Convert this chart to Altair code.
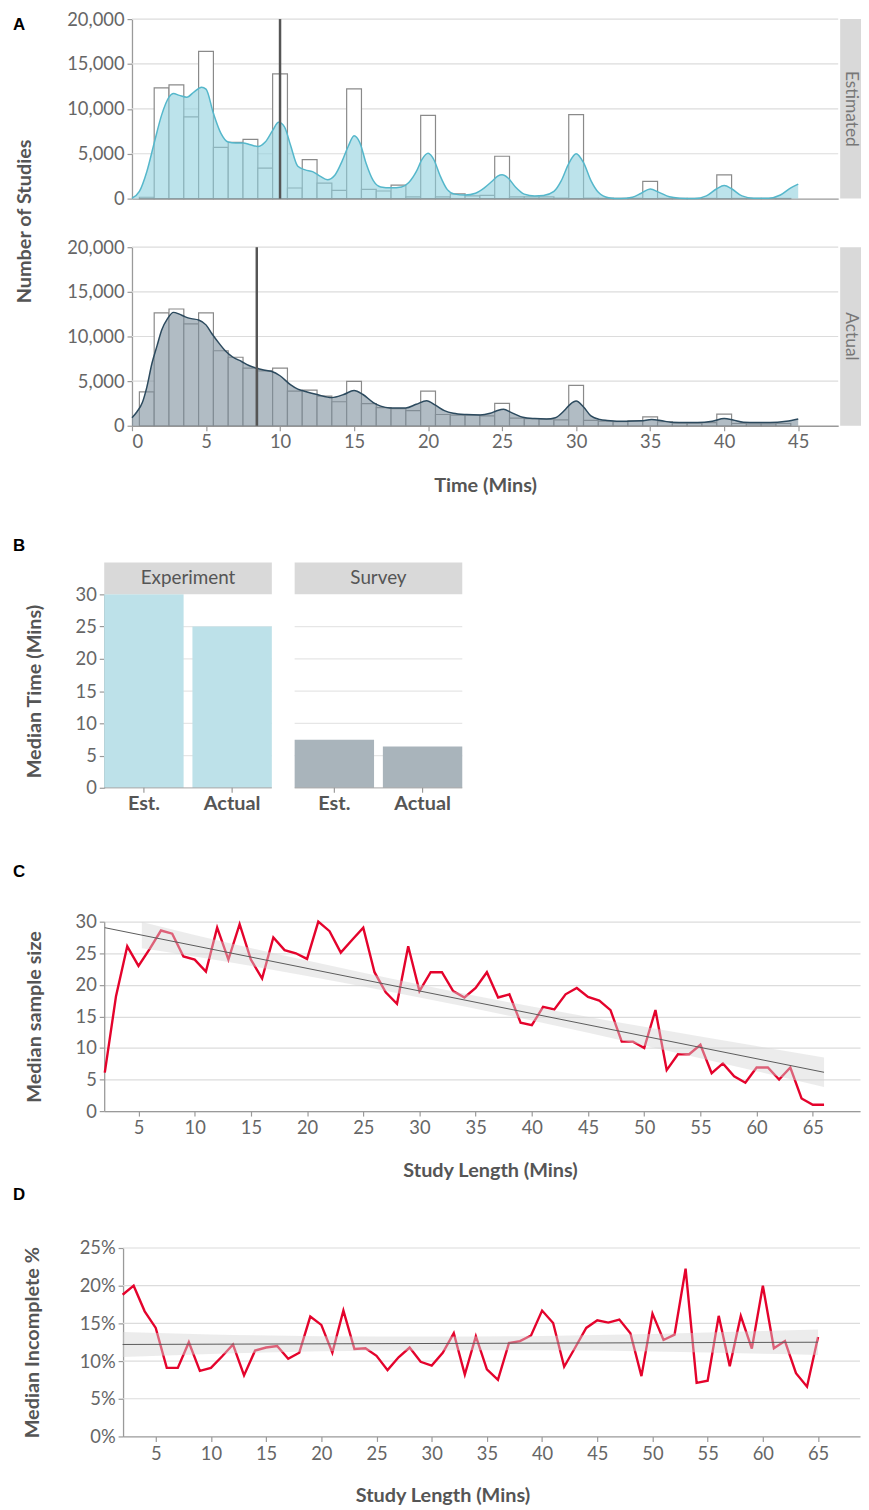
import altair as alt
import pandas as pd

FONT = "Lato"
LETTER_FONT = "Liberation Sans"
TITLE_C = "#555555"
LABEL_C = "#666666"
GRID_C = "#DCDCDC"
AXIS_C = "#9A9A9A"
RED = "#E4032C"

# ---------------- Panel A data ----------------
bin_centers = list(range(1, 45))
estimated_counts = [150, 12340, 12670, 9100, 16400, 5700, 6260, 6600, 3400, 13900,
                    1180, 4350, 1730, 920, 12230, 1030, 850, 1510, 190, 9280,
                    190, 520, 300, 370, 4720, 200, 200, 200, 50, 9360,
                    50, 30, 30, 30, 1910, 20, 20, 20, 20, 2650,
                    20, 20, 20, 20]
actual_counts = [3800, 12640, 13080, 11420, 12640, 8400, 7670, 6450, 6150, 6450,
                 3870, 3980, 3320, 2690, 4970, 2470, 2030, 1920, 1700, 3870,
                 1260, 1200, 1200, 1100, 2500, 850, 800, 750, 650, 4530,
                 600, 500, 450, 550, 1000, 450, 300, 300, 350, 1300,
                 250, 200, 200, 250]

est_kde_t = [0, 0.5, 1.0, 1.5, 2.0, 2.5, 2.8, 3.2, 3.7, 4.2, 4.7, 5.0, 5.5, 6.0, 6.5, 7.0,
             7.5, 8.0, 8.5, 9.0, 9.5, 9.9, 10.3, 10.7, 11.2, 11.7, 12.2, 12.7, 13.2, 13.7,
             14.2, 14.6, 15.0, 15.4, 15.8, 16.3, 16.8, 17.5, 18.2, 18.7, 19.2, 19.6, 20.0,
             20.4, 20.8, 21.3, 21.8, 22.5, 23.2, 23.8, 24.3, 24.7, 25.0, 25.4, 25.9, 26.5,
             27.2, 27.8, 28.5, 29.0, 29.5, 30.0, 30.5, 31.0, 31.5, 32.2, 33.0, 33.8, 34.4,
             35.0, 35.6, 36.3, 37.0, 38.0, 38.8, 39.5, 40.0, 40.5, 41.2, 42.0, 43.0, 43.8,
             44.5, 45.0]
est_kde_n = [50, 800, 3000, 6200, 9300, 11300, 11700, 11500, 11300, 11900, 12400, 12200,
             9500, 7300, 6300, 6200, 6200, 6000, 5800, 6300, 7600, 8500, 8000, 6000, 3600,
             3200, 3000, 2500, 2100, 2600, 4200, 5800, 7000, 6200, 4000, 2000, 1300, 1200,
             1300, 1800, 3000, 4400, 5050, 4300, 2600, 1000, 500, 400, 600, 1200, 1900,
             2500, 2650, 2300, 1300, 500, 300, 350, 800, 2000, 3900, 5000, 4000, 2000, 700,
             100, 0, 150, 600, 1070, 700, 200, 50, 0, 300, 1100, 1450, 1100, 300, 50, 50,
             400, 1200, 1620]

act_kde_t = [0, 0.35, 0.7, 1.0, 1.35, 1.7, 2.0, 2.4, 2.8, 3.2, 3.6, 4.0, 4.5, 5.0, 5.4,
             5.9, 6.3, 6.8, 7.4, 7.9, 8.4, 8.9, 9.4, 10.0, 10.7, 11.2, 11.6, 12.5, 13.5,
             14.3, 15.0, 15.6, 16.3, 16.8, 17.4, 18.5, 19.2, 19.9, 20.5, 21.1, 21.7, 22.6,
             23.5, 24.2, 24.6, 25.1, 25.6, 26.4, 27.2, 28.0, 28.6, 29.2, 29.6, 30.0, 30.5,
             31.0, 31.6, 32.1, 33.4, 34.4, 35.1, 35.8, 36.4, 37.5, 38.2, 39.2, 40.0, 40.6,
             41.3, 42.2, 43.1, 44.2, 45.0]
act_kde_n = [900, 1600, 2600, 4300, 7000, 9000, 10700, 12000, 12700, 12500, 12200, 12000,
             11850, 11300, 10300, 9200, 8400, 7700, 7200, 6750, 6450, 6250, 6100, 5600,
             4600, 4100, 3900, 3500, 3150, 3500, 3950, 3500, 2600, 2200, 2000, 2000, 2400,
             2800, 2300, 1700, 1400, 1250, 1200, 1400, 1650, 1850, 1500, 950, 800, 750,
             900, 1700, 2400, 2760, 2100, 1100, 700, 600, 500, 550, 700, 550, 400, 350,
             350, 500, 800, 650, 400, 350, 350, 500, 750]

est_median = 10.0
act_median = 8.43
a_y_ticks = [0, 5000, 10000, 15000, 20000]
a_x_ticks = [0, 5, 10, 15, 20, 25, 30, 35, 40, 45]

# ---------------- Panel B data ----------------
b_panel = ["Experiment", "Experiment", "Survey", "Survey"]
b_time = ["Est.", "Actual", "Est.", "Actual"]
b_median = [30.0, 25.0, 7.45, 6.4]
b_panels = ["Experiment", "Survey"]
b_types = ["Est.", "Actual"]
b_y_ticks = [0, 5, 10, 15, 20, 25, 30]

# ---------------- Panel C data ----------------
c_len = list(range(2, 67))
c_size = [6.1, 18.2, 26.1, 23.0, 25.7, 28.6, 28.1, 24.5, 24.0, 22.1,
          29.05, 24.0, 29.6, 24.0, 21.0, 27.5, 25.5, 25.0, 24.1, 30.0,
          28.5, 25.1, 27.1, 29.05, 22.0, 18.8, 17.0, 26.1, 19.0, 22.0,
          22.0, 19.0, 18.0, 19.5, 22.0, 18.0, 18.5, 14.0, 13.6, 16.5,
          16.1, 18.5, 19.5, 18.1, 17.5, 16.0, 11.0, 11.0, 10.0, 16.0,
          6.5, 9.0, 9.0, 10.5, 6.0, 7.55, 5.5, 4.5, 6.9, 6.9,
          5.0, 6.9, 2.0, 1.0, 1.0]
c_band_x = [5.3, 10, 20, 30, 40, 50, 60, 66]
c_band_lo = [25.8, 24.5, 21.4, 18.0, 14.35, 10.4, 6.3, 3.8]
c_band_hi = [29.95, 27.9, 23.85, 20.05, 16.55, 13.35, 10.3, 8.5]
c_fit_x = [2, 66]
c_fit_y = [29.05, 6.15]

# ---------------- Panel D data ----------------
d_len = list(range(2, 66))
d_incomplete = [18.8, 20.0, 16.6, 14.4, 9.1, 9.1, 12.5, 8.7, 9.1, 10.6,
                12.2, 8.1, 11.4, 11.8, 12.0, 10.3, 11.1, 15.9, 14.8, 11.1,
                16.7, 11.6, 11.7, 10.7, 8.8, 10.5, 11.8, 9.9, 9.4, 11.1,
                13.7, 8.2, 13.3, 8.9, 7.5, 12.4, 12.65, 13.4, 16.7, 15.05,
                9.25, 11.8, 14.4, 15.4, 15.1, 15.5, 13.7, 8.0, 16.3, 12.8,
                13.5, 22.25, 7.1, 7.4, 16.0, 9.3, 16.0, 11.65, 20.0, 11.7,
                12.65, 8.4, 6.6, 13.2]
d_band_x = [2, 10, 20, 30, 40, 50, 60, 65]
d_band_lo = [10.55, 10.94, 11.29, 11.41, 11.43, 11.28, 10.98, 10.82]
d_band_hi = [13.85, 13.54, 13.29, 13.25, 13.33, 13.58, 13.98, 14.18]
d_fit_x = [2, 65]
d_fit_y = [12.2, 12.5]
d_y_ticks = [0, 5, 10, 15, 20, 25]
len_ticks = [5, 10, 15, 20, 25, 30, 35, 40, 45, 50, 55, 60, 65]

HIDDEN_AXIS = dict(labels=False, ticks=False, domain=False, grid=False, title="")


def one():
    return pd.DataFrame({"k": [0]})


def letter(ch, x, y):
    return alt.Chart(one()).mark_text(text=ch, font=LETTER_FONT, fontSize=17, fontWeight="bold",
                                      color="#000000", align="left", baseline="middle").encode(
        x=alt.value(x), y=alt.value(y))


def hist_panel(name, counts, kde_t, kde_n, median, fill, stroke, H, bottom):
    xs = alt.Scale(domain=[0, 47.7], range=[28, 740], nice=False, zero=False)
    ys = alt.Scale(domain=[0, 20000], nice=False)
    bars = pd.DataFrame({"lo": [c - 0.5 for c in bin_centers],
                         "hi": [c + 0.5 for c in bin_centers], "n": counts})
    kde = pd.DataFrame({"lo": kde_t, "n": kde_n})
    if bottom:
        xaxis = alt.Axis(values=a_x_ticks, tickCount=10, labelPadding=2, labelOverlap=False,
                         title="Time (Mins)", titleX=384, titleY=60, titleBaseline="middle")
    else:
        xaxis = alt.Axis(labels=False, ticks=False, title="")
    yaxis = alt.Axis(offset=-28, values=a_y_ticks, tickCount=5,
                     labelExpr="format(datum.value, ',')",
                     labelOverlap=False, labelPadding=3, title="")
    grid = alt.Chart(pd.DataFrame({"n": a_y_ticks[1:]})).mark_rule(
        color=GRID_C, strokeWidth=1.2).encode(
        y=alt.Y("n:Q", scale=ys), x=alt.value(28), x2=alt.value(740))
    hist = alt.Chart(bars).mark_rect(fill="white", stroke="#8A8A8A", strokeWidth=1.2).encode(
        x=alt.X("lo:Q", scale=xs, axis=xaxis), x2="hi:Q",
        y=alt.Y("n:Q", scale=ys, axis=yaxis), y2=alt.datum(0))
    area = alt.Chart(kde).mark_area(interpolate="monotone", color=fill, opacity=0.6).encode(
        x=alt.X("lo:Q", scale=xs), y=alt.Y("n:Q", scale=ys))
    line = alt.Chart(kde).mark_line(interpolate="monotone", color=stroke, strokeWidth=1.5).encode(
        x=alt.X("lo:Q", scale=xs), y=alt.Y("n:Q", scale=ys))
    med = alt.Chart(pd.DataFrame({"lo": [median], "n": [20000]})).mark_rule(
        color="#555555", strokeWidth=2.5).encode(
        x=alt.X("lo:Q", scale=xs), y=alt.Y("n:Q", scale=ys), y2=alt.datum(0))
    strip = alt.Chart(one()).mark_rect(color="#D9D9D9").encode(
        x=alt.value(742), x2=alt.value(763), y=alt.value(0), y2=alt.value(H))
    strip_txt = alt.Chart(one()).mark_text(text=name, angle=90, font=FONT, fontSize=17.5,
                                           color="#777777", align="center", baseline="middle").encode(
        x=alt.value(752.5), y=alt.value(H / 2))
    return [grid, hist, area, line, med, strip, strip_txt]


# ---- A top ----
a_top_layers = hist_panel("Estimated", estimated_counts, est_kde_t, est_kde_n, est_median,
                          "#8FD0DE", "#55B7CB", 181, False)
a_title = alt.Chart(one()).mark_text(text="Number of Studies", angle=270, font=FONT, fontSize=20,
                                     fontWeight="bold", color=TITLE_C, align="center",
                                     baseline="middle").encode(x=alt.value(-80), y=alt.value(204))
bound_rule = alt.Chart(one()).mark_rule(opacity=0).encode(
    x=alt.value(-96.5), y=alt.value(-10), y2=alt.value(0))
a_top = alt.layer(*a_top_layers, a_title, letter("A", -92, 6), bound_rule).properties(
    width=740, height=181)

# ---- A bottom ----
a_bot_layers = hist_panel("Actual", actual_counts, act_kde_t, act_kde_n, act_median,
                          "#7D8F9C", "#2C4A5E", 180, True)
a_bot = alt.layer(*a_bot_layers).properties(width=740, height=180)

# ---- B ----
dfb = pd.DataFrame({"panel": b_panel, "time": b_time, "v": b_median})
xb = alt.Scale(domain=b_panels, paddingInner=0.1198, paddingOuter=0)
xo = alt.Scale(domain=b_types, paddingInner=0.1, paddingOuter=0)
yb = alt.Scale(domain=[0, 30], nice=False)
grid_b = pd.DataFrame({"panel": [p for p in b_panels for g in b_y_ticks[1:6]],
                       "v": [g for p in b_panels for g in b_y_ticks[1:6]]})
base_b = pd.DataFrame({"panel": b_panels, "v": [0, 0]})
b_grid = alt.Chart(grid_b).mark_tick(size=169, thickness=1.2, color=GRID_C).encode(
    x=alt.X("panel:N", scale=xb), y=alt.Y("v:Q", scale=yb))
b_bars = alt.Chart(dfb).mark_bar().encode(
    x=alt.X("panel:N", scale=xb, axis=alt.Axis(**HIDDEN_AXIS)),
    xOffset=alt.XOffset("time:N", scale=xo),
    y=alt.Y("v:Q", scale=yb,
            axis=alt.Axis(values=b_y_ticks, tickCount=7, labelPadding=3, labelOverlap=False,
                          title="Median Time (Mins)", titleX=-70, titleBaseline="middle")),
    color=alt.Color("panel:N", scale=alt.Scale(domain=b_panels, range=["#BDE1E9", "#A9B4BB"]),
                    legend=None))
b_base = alt.Chart(base_b).mark_tick(size=169, thickness=1.3, color=AXIS_C).encode(
    x=alt.X("panel:N", scale=xb), y=alt.Y("v:Q", scale=yb))
b_ticks = alt.Chart(dfb).mark_rule(color=AXIS_C, strokeWidth=1.2).encode(
    x=alt.X("panel:N", scale=xb), xOffset=alt.XOffset("time:N", scale=xo),
    y=alt.value(195), y2=alt.value(200))
b_labels = alt.Chart(dfb).mark_text(font=FONT, fontSize=20, fontWeight="bold", color=TITLE_C,
                                    baseline="middle").encode(
    x=alt.X("panel:N", scale=xb), xOffset=alt.XOffset("time:N", scale=xo),
    y=alt.value(211), text="time:N")
b_strip = alt.Chart(base_b).mark_bar(color="#D9D9D9").encode(
    x=alt.X("panel:N", scale=xb), y=alt.value(-32), y2=alt.value(0))
b_strip_txt = alt.Chart(base_b).mark_text(font=FONT, fontSize=19, color=TITLE_C,
                                          baseline="middle").encode(
    x=alt.X("panel:N", scale=xb), y=alt.value(-16), text="panel:N")
b_chart = alt.layer(b_grid, b_bars, b_base, b_ticks, b_labels, b_strip, b_strip_txt,
                    letter("B", -92, -49)).properties(width=361, height=195)

# ---- C ----
dfc = pd.DataFrame({"x": c_len, "y": c_size})
dfc_band = pd.DataFrame({"x": c_band_x, "lo": c_band_lo, "hi": c_band_hi})
dfc_fit = pd.DataFrame({"x": c_fit_x, "y": c_fit_y})
xc = alt.Scale(domain=[1.95, 69.2], nice=False, zero=False)
yc = alt.Scale(domain=[0, 30], nice=False)
c_line = alt.Chart(dfc).mark_line(color=RED, strokeWidth=2.4).encode(
    x=alt.X("x:Q", scale=xc, axis=alt.Axis(values=len_ticks, labelPadding=2.5, labelOverlap=False,
                                           title="Study Length (Mins)", titleX=389, titleY=60,
                                           titleBaseline="middle")),
    y=alt.Y("y:Q", scale=yc, axis=alt.Axis(values=b_y_ticks, tickCount=7, grid=True,
                                           gridColor=GRID_C, gridWidth=1.2, labelPadding=3,
                                           labelOverlap=False,
                                           title="Median sample size", titleX=-70,
                                           titleBaseline="middle")))
c_band = alt.Chart(dfc_band).mark_area(color="#D4D4D4", opacity=0.45, interpolate="monotone").encode(
    x=alt.X("x:Q", scale=xc), y=alt.Y("lo:Q", scale=yc), y2="hi:Q")
c_fit = alt.Chart(dfc_fit).mark_line(color="#5A5A5A", strokeWidth=1).encode(
    x=alt.X("x:Q", scale=xc), y=alt.Y("y:Q", scale=yc))
c_chart = alt.layer(c_line, c_band, c_fit, letter("C", -92, -50)).properties(width=762, height=191)

# ---- D ----
dfd = pd.DataFrame({"x": d_len, "y": d_incomplete})
dfd_band = pd.DataFrame({"x": d_band_x, "lo": d_band_lo, "hi": d_band_hi})
dfd_fit = pd.DataFrame({"x": d_fit_x, "y": d_fit_y})
xd = alt.Scale(domain=[2.04, 68.8], range=[19, 762], nice=False, zero=False)
yd = alt.Scale(domain=[0, 25], nice=False)
d_grid = alt.Chart(pd.DataFrame({"y": d_y_ticks[1:]})).mark_rule(color=GRID_C, strokeWidth=1.2).encode(
    y=alt.Y("y:Q", scale=yd), x=alt.value(19), x2=alt.value(762))
d_line = alt.Chart(dfd).mark_line(color=RED, strokeWidth=2.4).encode(
    x=alt.X("x:Q", scale=xd, axis=alt.Axis(values=len_ticks, labelPadding=3.5, labelOverlap=False,
                                           title="Study Length (Mins)", titleX=341, titleY=60,
                                           titleBaseline="middle")),
    y=alt.Y("y:Q", scale=yd, axis=alt.Axis(values=d_y_ticks, tickCount=6, offset=-19,
                                           labelPadding=3, labelOverlap=False,
                                           labelExpr="datum.value + '%'",
                                           title="Median Incomplete %", titleX=-91,
                                           titleBaseline="middle")))
d_band = alt.Chart(dfd_band).mark_area(color="#D4D4D4", opacity=0.45, interpolate="monotone").encode(
    x=alt.X("x:Q", scale=xd), y=alt.Y("lo:Q", scale=yd), y2="hi:Q")
d_fit = alt.Chart(dfd_fit).mark_line(color="#5A5A5A", strokeWidth=1).encode(
    x=alt.X("x:Q", scale=xd), y=alt.Y("y:Q", scale=yd))
d_chart = alt.layer(d_grid, d_line, d_band, d_fit, letter("D", -92, -53)).properties(
    width=762, height=190)


def spacer(h):
    return alt.Chart(one()).mark_rule(opacity=0).encode(
        x=alt.value(0), y=alt.value(0), y2=alt.value(1)).properties(width=1, height=h)


chart = alt.vconcat(a_top, spacer(49), a_bot, spacer(170), b_chart, spacer(135), c_chart,
                    spacer(138), d_chart, spacing=0, bounds="flush").properties(
    padding={"left": 0, "top": -5, "right": 0, "bottom": 0}, background="white"
).configure_view(strokeWidth=0).configure_axis(
    labelFont=FONT, labelFontSize=18.5, labelColor=LABEL_C, labelOverlap=False,
    titleFont=FONT, titleFontSize=20, titleFontWeight="bold", titleColor=TITLE_C,
    domainColor=AXIS_C, domainWidth=1.3, tickColor=AXIS_C, tickWidth=1.2, tickSize=5, grid=False)

chart.save("out.html", embed_options={"renderer": "svg", "actions": False})
